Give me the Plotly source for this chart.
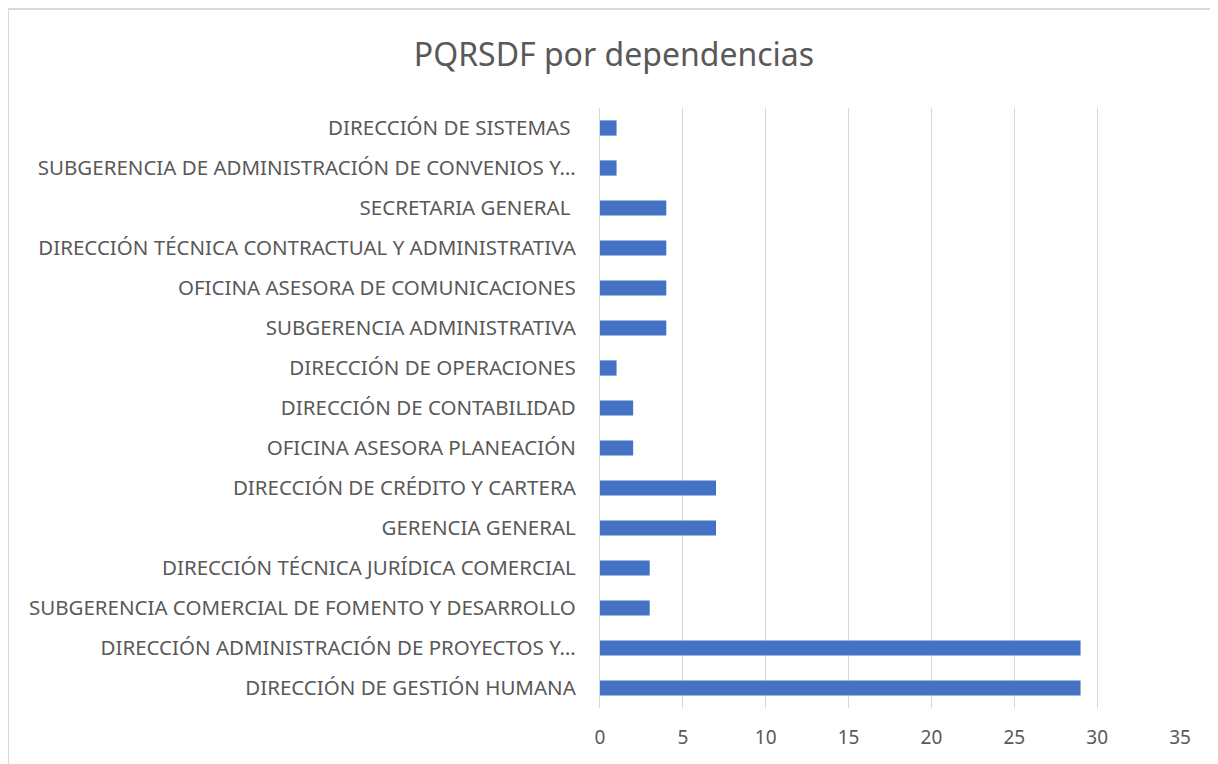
import plotly.graph_objects as go

categories = [
    "DIRECCIÓN DE GESTIÓN HUMANA",
    "DIRECCIÓN ADMINISTRACIÓN DE PROYECTOS Y…",
    "SUBGERENCIA COMERCIAL DE FOMENTO Y DESARROLLO",
    "DIRECCIÓN TÉCNICA JURÍDICA COMERCIAL",
    "GERENCIA GENERAL",
    "DIRECCIÓN DE CRÉDITO Y CARTERA",
    "OFICINA ASESORA PLANEACIÓN",
    "DIRECCIÓN DE CONTABILIDAD",
    "DIRECCIÓN DE OPERACIONES",
    "SUBGERENCIA ADMINISTRATIVA",
    "OFICINA ASESORA DE COMUNICACIONES",
    "DIRECCIÓN TÉCNICA CONTRACTUAL Y ADMINISTRATIVA",
    "SECRETARIA GENERAL\u00a0",
    "SUBGERENCIA DE ADMINISTRACIÓN DE CONVENIOS Y…",
    "DIRECCIÓN DE SISTEMAS\u00a0",
]
values = [29, 29, 3, 3, 7, 7, 2, 2, 1, 4, 4, 4, 4, 1, 1]
x_ticks = [0, 5, 10, 15, 20, 25, 30, 35]

# page body has an 8px margin, so the figure is drawn 8px right/down
W, H = 1210, 756
L, R, T, B = 592, 38, 100, 56
pw, ph = W - L - R, H - T - B

fig = go.Figure(go.Bar(
    x=values, y=categories, orientation="h",
    marker=dict(color="#4472C4", line=dict(width=0)),
    width=0.38,
))

fig.update_layout(
    width=W, height=H,
    margin=dict(l=L, r=R, t=T, b=B),
    paper_bgcolor="white", plot_bgcolor="white",
    font=dict(family="Noto Sans", color="#595959", size=20.5),
    title=dict(text="PQRSDF por dependencias", x=(614 - 8) / W, xanchor="center",
               y=1 - 47 / H, yanchor="middle",
               font=dict(size=32, color="#595959", family="Noto Sans")),
    showlegend=False,
)
fig.update_xaxes(range=[0, 35], tickvals=x_ticks, showgrid=True,
                 gridcolor="#d9d9d9", gridwidth=1.3, zeroline=False,
                 showline=False, ticks="", tickfont=dict(size=19),
                 ticklabelstandoff=16)
fig.update_yaxes(type="category", categoryorder="array", categoryarray=categories,
                 showgrid=False, showline=True, linecolor="#d9d9d9", linewidth=1.3,
                 ticks="", ticklabelstandoff=19, tickfont=dict(size=20.5),
                 range=[-0.5, len(categories) - 0.5])

# outer chart border (top and left visible)
x0 = (0 - L) / pw
y0 = 1 + (T - 1) / ph
fig.add_shape(type="rect", xref="paper", yref="paper",
              x0=x0, x1=(W + 20 - L) / pw, y0=y0, y1=-(B + 20) / ph,
              line=dict(color="#d9d9d9", width=2), layer="below")

fig.write_html("out.html")
